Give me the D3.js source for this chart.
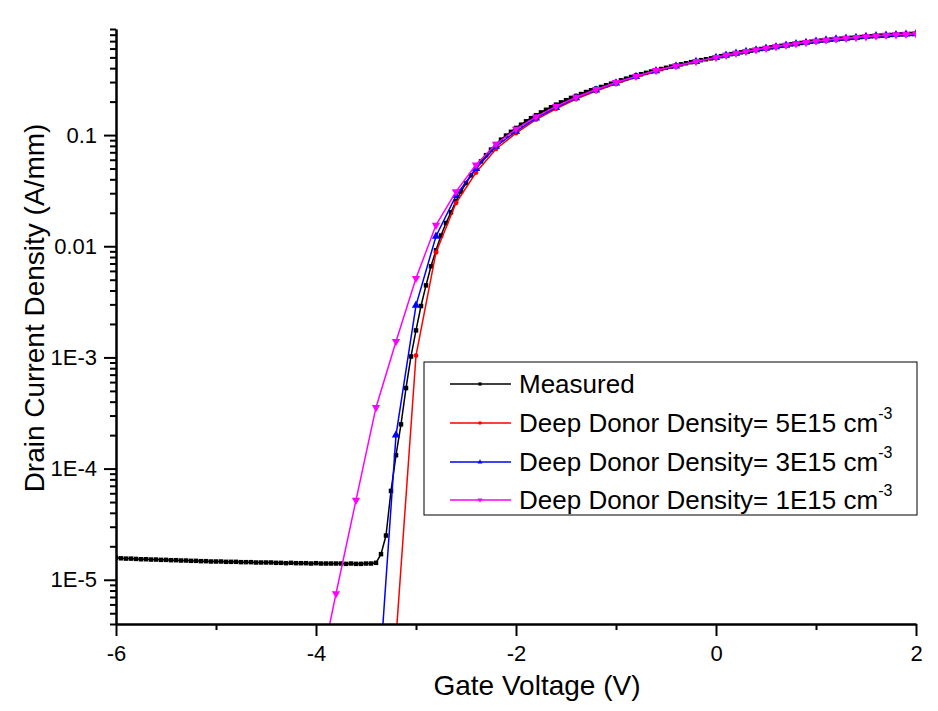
<!DOCTYPE html>
<meta charset="utf-8">
<script src="https://d3js.org/d3.v7.min.js"></script>
<style>
  body { margin: 0; background: #fff; }
  text { font-family: "Liberation Sans", Arial, sans-serif; fill: #000; }
</style>
<svg id="chart" width="938" height="711"></svg>
<script>
  // measured sweep: -6 V .. 2 V, 0.05 V step
  let measuredStart = -6;
  let measuredStep = 0.05;
  let measuredI = [
    1.58e-5, 1.56e-5, 1.55e-5, 1.55e-5, 1.54e-5, 1.53e-5, 1.53e-5, 1.52e-5, 1.52e-5, 1.51e-5,
    1.51e-5, 1.50e-5, 1.50e-5, 1.49e-5, 1.49e-5, 1.48e-5, 1.48e-5, 1.47e-5, 1.47e-5, 1.46e-5,
    1.46e-5, 1.46e-5, 1.45e-5, 1.45e-5, 1.45e-5, 1.44e-5, 1.44e-5, 1.44e-5, 1.43e-5, 1.43e-5,
    1.43e-5, 1.43e-5,
    1.42e-5, 1.42e-5, 1.41e-5, 1.42e-5, 1.41e-5, 1.41e-5, 1.41e-5, 1.40e-5, 1.41e-5, 1.40e-5,
    1.40e-5, 1.40e-5, 1.40e-5, 1.40e-5, 1.39e-5, 1.40e-5, 1.39e-5, 1.39e-5, 1.40e-5, 1.40e-5,
    1.42e-5,
    1.70e-5, 2.5e-5, 6.3e-5, 1.32e-4, 2.5e-4, 5.3e-4, 1.02e-3, 1.75e-3, 2.9e-3, 4.45e-3,
    6.6e-3, 9.2e-3, 0.0125, 0.0162, 0.0202,
    0.0255, 0.031, 0.037, 0.0435, 0.0505, 0.058, 0.066, 0.074, 0.083, 0.091,
    0.099, 0.107, 0.116, 0.124, 0.133, 0.142, 0.151, 0.160, 0.169, 0.178,
    0.188, 0.197, 0.206, 0.216, 0.225, 0.234, 0.244, 0.253, 0.262, 0.271,
    0.281, 0.290,
    0.300, 0.311, 0.322, 0.333, 0.343, 0.353, 0.363, 0.373, 0.383, 0.393,
    0.403, 0.413, 0.423, 0.433, 0.443, 0.453, 0.462, 0.472, 0.481, 0.490,
    0.500, 0.513, 0.525, 0.535, 0.545, 0.555, 0.565, 0.575, 0.585, 0.595,
    0.605, 0.615, 0.625, 0.635, 0.645, 0.655, 0.665, 0.674, 0.683, 0.692,
    0.700, 0.708, 0.715, 0.723, 0.730, 0.737, 0.743, 0.749, 0.755, 0.762,
    0.768, 0.774, 0.780, 0.785, 0.790, 0.795, 0.800, 0.804, 0.808, 0.812,
    0.815
  ];

  // simulation grid
  let simV = [
    -4.0, -3.8, -3.6, -3.4, -3.2, -3.0, -2.8, -2.6, -2.4, -2.2, -2.0,
    -1.8, -1.6, -1.4, -1.2, -1.0, -0.8, -0.6, -0.4, -0.2, 0.0,
    0.1, 0.2, 0.3, 0.4, 0.5, 0.6, 0.7, 0.8, 0.9, 1.0,
    1.1, 1.2, 1.3, 1.4, 1.5, 1.6, 1.7, 1.8, 1.9, 2.0
  ];
  let donor5I = [
    null, null, null, 1e-8, 3.0e-6, 1.04e-3, 8.8e-3, 0.0245, 0.046, 0.075, 0.104,
    0.138, 0.172, 0.211, 0.249, 0.289, 0.331, 0.373, 0.414, 0.455, 0.495,
    0.518, 0.540, 0.561, 0.581, 0.601, 0.621, 0.641, 0.661, 0.679, 0.697,
    0.713, 0.728, 0.741, 0.754, 0.767, 0.779, 0.789, 0.799, 0.807, 0.815
  ];
  let donor3I = [
    null, null, null, 5e-7, 2.0e-4, 2.94e-3, 0.0123, 0.0285, 0.050, 0.079, 0.108,
    0.142, 0.177, 0.216, 0.254, 0.294, 0.336, 0.378, 0.418, 0.458, 0.498,
    0.521, 0.543, 0.563, 0.583, 0.603, 0.623, 0.643, 0.663, 0.681, 0.699,
    0.714, 0.729, 0.742, 0.755, 0.768, 0.780, 0.790, 0.800, 0.808, 0.815
  ];
  let donor1I = [
    1.0e-6, 7.5e-6, 5.2e-5, 3.55e-4, 1.39e-3, 5.15e-3, 0.0155, 0.031, 0.054, 0.083, 0.113,
    0.146, 0.181, 0.219, 0.257, 0.297, 0.338, 0.381, 0.420, 0.460, 0.500,
    0.523, 0.545, 0.565, 0.585, 0.605, 0.625, 0.645, 0.665, 0.683, 0.701,
    0.716, 0.731, 0.744, 0.757, 0.769, 0.781, 0.791, 0.801, 0.809, 0.817
  ];

  let xMajor = [-6, -4, -2, 0, 2];
  let xMinor = [-5, -3, -1, 1];
  let yMajor = [1e-5, 1e-4, 1e-3, 0.01, 0.1];
  let yMajorLabels = ["1E-5", "1E-4", "1E-3", "0.01", "0.1"];
  let legendLabels = [
    "Measured",
    "Deep Donor Density= 5E15 cm",
    "Deep Donor Density= 3E15 cm",
    "Deep Donor Density= 1E15 cm"
  ];
  let seriesColors = ["#000000", "#ff0000", "#0000ff", "#ff00ff"];

  let measured = measuredI.map((v, i) => [Math.round((measuredStart + i * measuredStep) * 100) / 100, v]);
  let sims = [donor5I, donor3I, donor1I].map(arr => simV.map((v, i) => [v, arr[i]]));
  let series = [measured].concat(sims);

  let svg = d3.select("#chart");
  let plotLeft = 116, plotRight = 916, plotTop = 29, plotBottom = 624;

  let x = d3.scaleLinear().domain([-6, 2]).range([plotLeft, plotRight]);
  let y = d3.scaleLog().domain([4e-6, 0.9]).range([plotBottom, plotTop]);

  // minor log ticks
  let yMinor = [];
  for (let e = -6; e <= -1; e++) {
    for (let k = 2; k <= 9; k++) {
      let v = k * Math.pow(10, e);
      if (v >= 4e-6 && v <= 0.9 + 1e-9) yMinor.push(v);
    }
  }

  svg.append("defs").append("clipPath").attr("id", "plotClip")
    .append("rect")
    .attr("x", plotLeft).attr("y", plotTop)
    .attr("width", plotRight - plotLeft).attr("height", plotBottom - plotTop);

  let plot = svg.append("g").attr("clip-path", "url(#plotClip)");

  let line = d3.line()
    .defined(d => d[1] != null)
    .x(d => x(d[0]))
    .y(d => y(d[1]));

  let symbols = [
    d3.symbol().type(d3.symbolSquare).size(20),
    d3.symbol().type(d3.symbolCircle).size(18),
    d3.symbol().type(d3.symbolTriangle).size(30),
    d3.symbol().type(d3.symbolTriangle).size(30)
  ];

  series.forEach((data, si) => {
    plot.append("path")
      .attr("d", line(data))
      .attr("fill", "none")
      .attr("stroke", seriesColors[si])
      .attr("stroke-width", 1.5);
    plot.selectAll(".m" + si)
      .data(data.filter(d => d[1] != null))
      .join("path")
      .attr("class", "m" + si)
      .attr("d", symbols[si]())
      .attr("transform", d => "translate(" + x(d[0]) + "," + y(d[1]) + ")" + (si == 3 ? " rotate(180)" : ""))
      .attr("fill", seriesColors[si]);
  });

  // axes
  svg.append("g")
    .attr("transform", "translate(0," + plotBottom + ")")
    .call(d3.axisBottom(x).tickValues(xMajor).tickSize(12).tickSizeOuter(0).tickPadding(9).tickFormat(d => String(d)));
  svg.append("g")
    .attr("transform", "translate(0," + plotBottom + ")")
    .call(d3.axisBottom(x).tickValues(xMinor).tickSize(6).tickSizeOuter(0).tickFormat(""));

  svg.append("g")
    .attr("transform", "translate(" + plotLeft + ",0)")
    .call(d3.axisLeft(y).tickValues(yMajor).tickSize(12).tickSizeOuter(0).tickPadding(7)
      .tickFormat((d, i) => yMajorLabels[i]));
  svg.append("g")
    .attr("transform", "translate(" + plotLeft + ",0)")
    .call(d3.axisLeft(y).tickValues(yMinor).tickSize(6).tickSizeOuter(0).tickFormat(""));

  svg.selectAll(".domain, .tick line")
    .attr("stroke", "#000")
    .attr("stroke-width", 2);
  svg.selectAll(".tick text")
    .attr("font-family", "Liberation Sans, Arial, sans-serif")
    .attr("font-size", 22)
    .attr("fill", "#000");

  // axis titles
  svg.append("text")
    .attr("x", 537)
    .attr("y", 695)
    .attr("text-anchor", "middle")
    .attr("font-size", 28)
    .text("Gate Voltage (V)");
  svg.append("text")
    .attr("transform", "translate(44,308) rotate(-90)")
    .attr("text-anchor", "middle")
    .attr("font-size", 28)
    .text("Drain Current Density (A/mm)");

  // legend
  let legend = svg.append("g");
  legend.append("rect")
    .attr("x", 424).attr("y", 362)
    .attr("width", 493).attr("height", 153)
    .attr("fill", "#fff")
    .attr("stroke", "#000")
    .attr("stroke-width", 1);

  let rowY = [384, 423, 462, 500];
  legendLabels.forEach((label, i) => {
    legend.append("line")
      .attr("x1", 450).attr("x2", 511)
      .attr("y1", rowY[i]).attr("y2", rowY[i])
      .attr("stroke", seriesColors[i])
      .attr("stroke-width", 1.5);
    legend.append("path")
      .attr("d", d3.symbol().type(i == 0 ? d3.symbolSquare : i == 1 ? d3.symbolCircle : d3.symbolTriangle).size(10)())
      .attr("transform", "translate(480," + rowY[i] + ")" + (i == 3 ? " rotate(180)" : ""))
      .attr("fill", seriesColors[i]);
    let t = legend.append("text")
      .attr("x", 519)
      .attr("y", rowY[i] + 9)
      .attr("font-size", 26)
      .text(label);
    if (i > 0) {
      t.append("tspan")
        .attr("dy", -13)
        .attr("font-size", 16)
        .text("-3");
    }
  });
</script>
